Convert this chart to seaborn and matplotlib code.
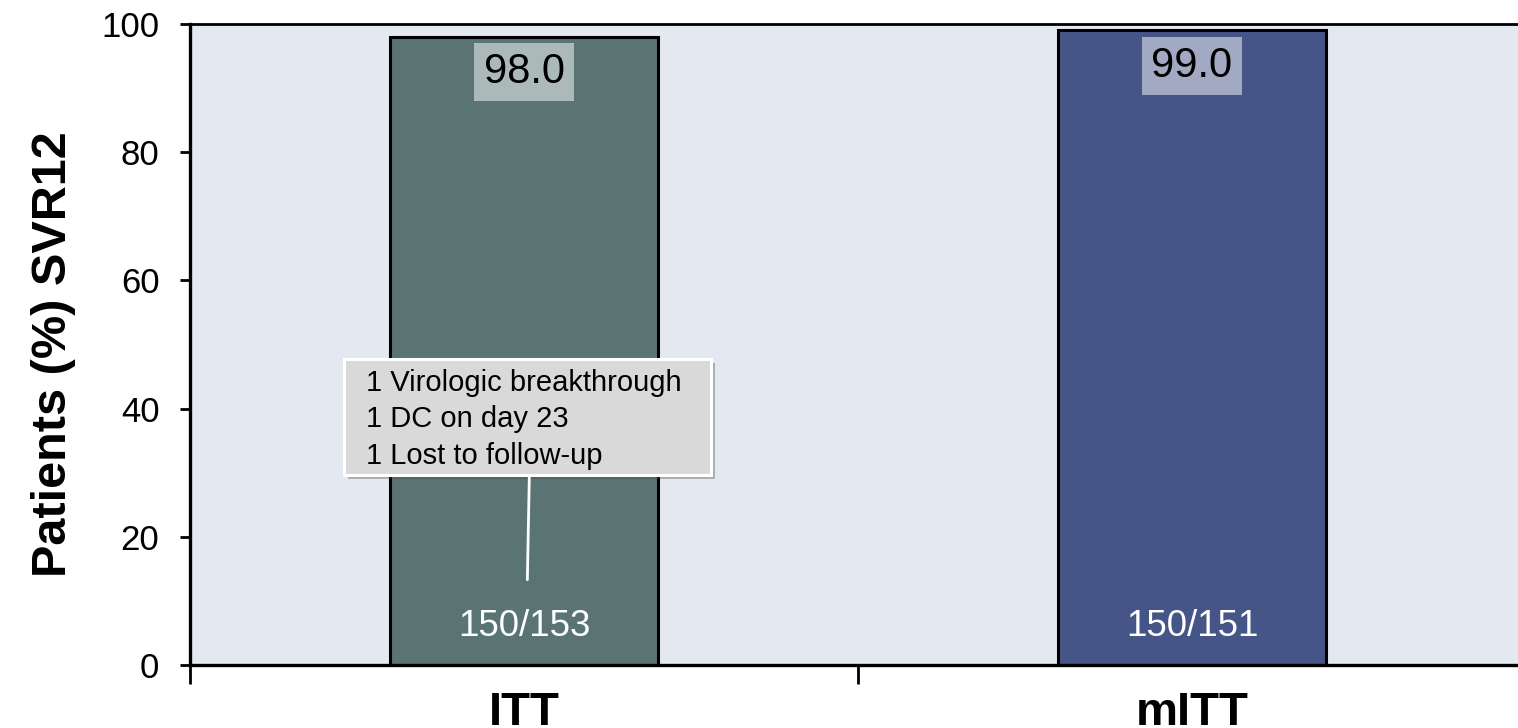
import matplotlib
matplotlib.use("Agg")
import matplotlib.pyplot as plt
import matplotlib.patheffects as pe
from matplotlib.patches import FancyBboxPatch
import seaborn as sns
import pandas as pd

# data
groups = ["ITT", "mITT"]
svr12 = [98.0, 99.0]
counts = ["150/153", "150/151"]
bar_colors = ["#5a7473", "#465587"]
note_lines = ["1 Virologic breakthrough", "1 DC on day 23", "1 Lost to follow-up"]

df = pd.DataFrame({"group": groups, "svr12": svr12})

sns.set_style("white")
plt.rcParams["font.family"] = ["Liberation Sans", "DejaVu Sans"]
plt.rcParams["text.color"] = "black"
plt.rcParams["axes.labelcolor"] = "black"
plt.rcParams["xtick.color"] = "black"
plt.rcParams["ytick.color"] = "black"

fig = plt.figure(figsize=(15.18, 7.28), dpi=100)
ax = fig.add_axes([190 / 1518, 63 / 728, 1336 / 1518, 641 / 728])
ax.set_facecolor("#e4e9f1")

sns.barplot(data=df, x="group", y="svr12", hue="group", palette=bar_colors,
            saturation=1, width=0.4, edgecolor="black", linewidth=2.2,
            legend=False, ax=ax)

# value boxes near bar tops and counts near bar bottoms
for i, (v, c) in enumerate(zip(svr12, counts)):
    ax.annotate(f"{v:.1f}", xy=(i, v), xytext=(0, -11), textcoords="offset points",
                ha="center", va="top", fontsize=30, color="black",
                bbox=dict(boxstyle="square,pad=0.22", fc="white", ec="none", alpha=0.5))
    ax.text(i, 6, c, ha="center", va="center", fontsize=26.5, color="white")

# footnote box on the ITT bar
note = FancyBboxPatch((-0.27, 29.6), 0.55, 18.2, boxstyle="square,pad=0",
                      fc="#d9d9d9", ec="white", lw=2.2, zorder=5,
                      path_effects=[pe.SimplePatchShadow(offset=(3, -3), alpha=0.35),
                                    pe.Normal()])
ax.add_patch(note)
ax.text(-0.237, 38.3, "\n".join(note_lines), ha="left", va="center",
        fontsize=21, linespacing=1.37, zorder=6)
ax.plot([0.008, 0.005], [29.6, 13.3], color="white", lw=2, zorder=5)

ax.set_xlim(-0.5, 1.5)
ax.set_ylim(0, 100)
ax.set_yticks([0, 20, 40, 60, 80, 100])
ax.tick_params(axis="y", direction="out", length=7, width=2, pad=15,
               labelsize=25, left=True)
ax.set_xticks([-0.5, 0.5, 1.5])
ax.set_xticklabels([])
ax.set_xticks([0, 1], minor=True)
ax.set_xticklabels(groups, minor=True, fontsize=34, fontweight="bold")
ax.tick_params(axis="x", which="major", direction="out", length=14, width=2, bottom=True)
ax.tick_params(axis="x", which="minor", length=0, pad=19)

ax.set_xlabel("")
ax.set_ylabel("Patients (%) SVR12", fontsize=35, fontweight="bold", labelpad=18)
ax.yaxis.label.set_y(0.485)

for side in ["left", "bottom"]:
    ax.spines[side].set_linewidth(2.4)
    ax.spines[side].set_color("black")
ax.spines["top"].set_linewidth(2)
ax.spines["top"].set_color("black")
ax.spines["right"].set_visible(False)

fig.savefig("out.png", dpi=100)
